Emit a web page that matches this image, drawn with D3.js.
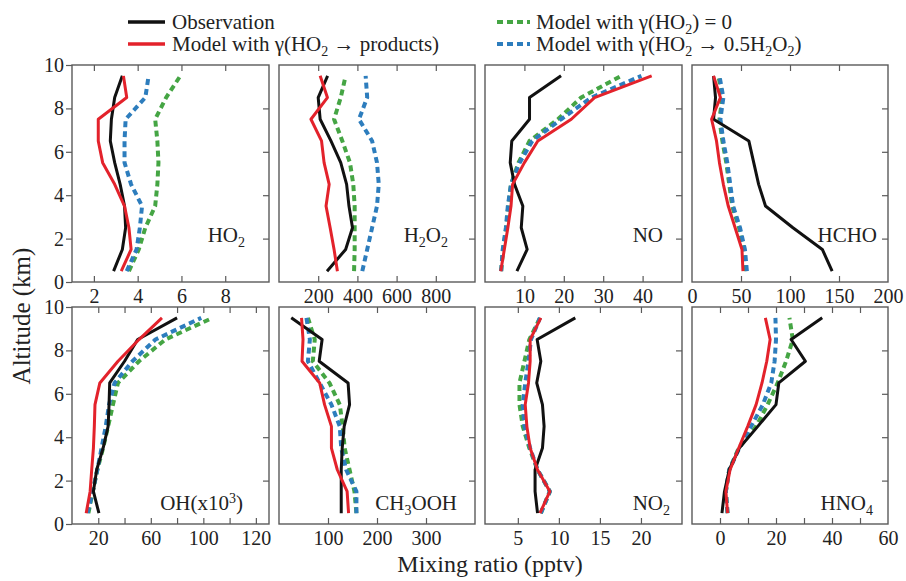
<!DOCTYPE html>
<html>
<head>
<meta charset="utf-8">
<script src="https://cdn.jsdelivr.net/npm/d3@7"></script>
<style>
  body { margin: 0; background: #fff; }
  svg { display: block; font-family: "Liberation Serif", "DejaVu Serif", serif; }
</style>
</head>
<body>
<svg id="chart" width="906" height="581"></svg>
<script>
// altitude levels (km), bottom to top
const alt = [0.5, 1.5, 2.5, 3.5, 4.5, 5.5, 6.5, 7.5, 8.5, 9.5];

// HO2
const ho2Obs = [2.9, 3.3, 3.45, 3.4, 3.2, 2.95, 2.75, 2.8, 2.95, 3.3];
const ho2Prod = [3.25, 3.7, 3.6, 3.4, 2.95, 2.4, 2.2, 2.2, 3.5, 3.35];
const ho2Zero = [3.6, 4.05, 4.35, 4.8, 4.9, 4.95, 4.9, 4.8, 5.3, 5.95];
const ho2Half = [3.5, 3.95, 4.1, 4.2, 3.7, 3.4, 3.4, 3.45, 4.35, 4.5];
// H2O2
const h2o2Obs = [245, 340, 375, 357, 345, 315, 265, 210, 200, 248];
const h2o2Prod = [298, 281, 261, 240, 256, 230, 217, 163, 247, 210];
const h2o2Zero = [383, 386, 386, 386, 379, 362, 323, 281, 315, 340];
const h2o2Half = [425, 450, 475, 500, 509, 500, 475, 408, 450, 442];
// NO
const noObs = [8.1, 10.7, 9.2, 9.6, 7.5, 6.4, 6.8, 11.3, 11.3, 19.3];
const noProd = [4.0, 4.9, 5.8, 6.6, 7.0, 10.0, 13.4, 21.9, 27.8, 42.3];
const noZero = [4.1, 4.6, 5.4, 5.9, 6.6, 8.5, 11.3, 18.5, 24.4, 34.6];
const noHalf = [4.1, 4.5, 5.3, 5.8, 6.6, 8.8, 12, 19.3, 27, 39.7];
// HCHO
const hchoObs = [143, 133, 103, 75, 68, 63, 58, 22, 24, 22];
const hchoProd = [52, 51, 44, 37, 32, 28, 25, 20, 29, 22];
const hchoZero = [55, 53, 48, 41, 38, 35, 31, 28, 31, 27];
const hchoHalf = [56, 54, 49, 42, 39, 36, 32, 29, 32, 28];
// OH (x10^3)
const ohObs = [20.5, 16.3, 18.8, 23.7, 27.5, 28.2, 28.7, 40, 50, 80];
const ohProd = [10.8, 13.8, 15, 16.3, 17, 17.5, 21.2, 35, 51, 68.5];
const ohZero = [12.5, 15.8, 19.3, 23.7, 27.5, 31.2, 35, 51, 71, 107];
const ohHalf = [11.8, 15.8, 19.3, 22.5, 25.7, 28.2, 32.4, 46, 63.5, 98.4];
// CH3OOH
const ch3oohObs = [127, 127, 127, 129, 133, 144, 141, 82, 88, 25];
const ch3oohProd = [142, 139, 119, 107, 107, 93, 83, 47, 49, 46];
const ch3oohZero = [158, 154, 144, 134, 130, 124, 103, 69, 73, 59];
const ch3oohHalf = [158, 158, 137, 127, 124, 107, 83, 59, 63, 56];
// NO2
const no2Obs = [7.4, 7.1, 7.1, 8.0, 8.2, 8.0, 7.3, 7.8, 7.35, 12];
const no2Prod = [7.7, 8.9, 7.4, 6.5, 6.1, 5.9, 6.3, 6.5, 6.5, 7.8];
const no2Zero = [7.8, 8.9, 7.4, 6.4, 5.6, 5.2, 5.2, 5.8, 6.4, 7.7];
const no2Half = [7.8, 8.9, 7.4, 6.5, 5.8, 5.6, 5.9, 6.3, 6.6, 7.7];
// HNO4
const hno4Obs = [0.7, 1.6, 3.3, 6.9, 13.5, 20, 21, 30.5, 25.4, 36.5];
const hno4Prod = [2.7, 2.1, 3.6, 6.7, 9.9, 12.9, 15, 16.7, 17.9, 16.2];
const hno4Zero = [2.7, 2.1, 3.3, 6.7, 12.9, 17, 20.6, 23.6, 26, 24.8];
const hno4Half = [2.7, 2.1, 3.3, 6.9, 11.1, 15.3, 18.3, 19.5, 20, 19.8];

// x-axis domains, tick marks, labelled ticks and their label text
const xDomains = [[1, 10], [0, 1000], [0, 50], [0, 200], [0, 150], [0, 400], [1, 25], [-10, 60]];
const xTickMarks = [[2, 4, 6, 8], [200, 400, 600, 800], [10, 20, 30, 40], [50, 100, 150],
  [20, 40, 60, 80, 100, 120, 140], [100, 200, 300], [5, 10, 15, 20], [0, 10, 20, 30, 40, 50]];
const xTickLabelPos = [[2, 4, 6, 8], [200, 400, 600, 800], [10, 20, 30, 40], [0, 50, 100, 150, 200],
  [20, 60, 100, 140], [100, 200, 300], [5, 10, 15, 20], [0, 20, 40, 60]];
const xTickLabelText = [["2", "4", "6", "8"], ["200", "400", "600", "800"], ["10", "20", "30", "40"],
  ["0", "50", "100", "150", "200"], ["20", "60", "100", "120"], ["100", "200", "300"],
  ["5", "10", "15", "20"], ["0", "20", "40", "60"]];
const yTicks = [0, 2, 4, 6, 8, 10];

const panelData = [
  [ho2Obs, ho2Prod, ho2Zero, ho2Half],
  [h2o2Obs, h2o2Prod, h2o2Zero, h2o2Half],
  [noObs, noProd, noZero, noHalf],
  [hchoObs, hchoProd, hchoZero, hchoHalf],
  [ohObs, ohProd, ohZero, ohHalf],
  [ch3oohObs, ch3oohProd, ch3oohZero, ch3oohHalf],
  [no2Obs, no2Prod, no2Zero, no2Half],
  [hno4Obs, hno4Prod, hno4Zero, hno4Half]
];

// species labels: [main text, sub/sup pieces]
const panelLabels = [
  [["HO", ""], ["2", "sub"]],
  [["H", ""], ["2", "sub"], ["O", ""], ["2", "sub"]],
  [["NO", ""]],
  [["HCHO", ""]],
  [["OH(x10", ""], ["3", "sup"], [")", ""]],
  [["CH", ""], ["3", "sub"], ["OOH", ""]],
  [["NO", ""], ["2", "sub"]],
  [["HNO", ""], ["4", "sub"]]
];
const labelEnd = [245, 448, 663, 877, 243, 457, 670, 873];

const colObs = "#111111", colProd = "#e3222b", colZero = "#45a544", colHalf = "#2d7dbd";

const svg = d3.select("#chart");
const colX = [[72, 269], [279, 475], [485, 682], [692, 888]];
const rowY = [[65, 282], [307, 524]];
const tick = 6;

panelData.forEach((series, i) => {
  const c = i % 4, r = Math.floor(i / 4);
  const [x0, x1] = colX[c], [y0, y1] = rowY[r];
  const x = d3.scaleLinear().domain(xDomains[i]).range([x0, x1]);
  const y = d3.scaleLinear().domain([0, 10]).range([y1, y0]);
  const g = svg.append("g");

  // frame
  g.append("rect").attr("x", x0).attr("y", y0).attr("width", x1 - x0).attr("height", y1 - y0)
    .attr("fill", "none").attr("stroke", "#5a5a5a").attr("stroke-width", 1.4);

  const styleAxis = (sel) => {
    sel.select(".domain").remove();
    sel.selectAll("line").attr("stroke", "#5a5a5a").attr("stroke-width", 1.2);
    sel.selectAll("text").attr("font-size", "20px").attr("fill", "#222")
      .attr("font-family", "Liberation Serif, serif");
  };

  // inward tick marks on top and bottom
  g.append("g").attr("transform", `translate(0,${y1})`)
    .call(d3.axisBottom(x).tickValues(xTickMarks[i]).tickSize(-tick).tickFormat(""))
    .call(styleAxis);
  g.append("g").attr("transform", `translate(0,${y0})`)
    .call(d3.axisTop(x).tickValues(xTickMarks[i]).tickSize(-tick).tickFormat(""))
    .call(styleAxis);
  // bottom tick labels
  const lab = xTickLabelText[i];
  g.append("g").attr("transform", `translate(0,${y1})`)
    .call(d3.axisBottom(x).tickValues(xTickLabelPos[i]).tickSize(0).tickPadding(7)
      .tickFormat((d, k) => lab[k]))
    .call(styleAxis);
  // inward right ticks
  g.append("g").attr("transform", `translate(${x1},0)`)
    .call(d3.axisRight(y).tickValues([2, 4, 6, 8]).tickSize(-tick).tickFormat(""))
    .call(styleAxis);
  // left axis with labels on first column
  if (c === 0) {
    g.append("g").attr("transform", `translate(${x0},0)`)
      .call(d3.axisLeft(y).tickValues(yTicks).tickSize(tick).tickPadding(2).tickFormat(d3.format("d")))
      .call(styleAxis);
  }

  const line = d3.line().x((d) => x(d)).y((d, k) => y(alt[k]));
  const [obs, prod, zero, half] = series;
  const draw = (vals, color, dashed) => {
    g.append("path").datum(vals).attr("d", line).attr("fill", "none")
      .attr("stroke", color).attr("stroke-width", dashed ? 4 : 3)
      .attr("stroke-dasharray", dashed ? "6,4" : null)
      .attr("stroke-linejoin", "round");
  };
  draw(zero, colZero, true);
  draw(half, colHalf, true);
  draw(obs, colObs, false);
  draw(prod, colProd, false);

  // species label
  const t = g.append("text").attr("x", labelEnd[i]).attr("y", r === 0 ? 242 : 510)
    .attr("text-anchor", "end").attr("font-size", "21px").attr("fill", "#222");
  panelLabels[i].forEach(([s, kind]) => {
    const ts = t.append("tspan").text(s);
    if (kind === "sub") ts.attr("font-size", "14px").attr("baseline-shift", "-5");
    if (kind === "sup") ts.attr("font-size", "14px").attr("baseline-shift", "7");
  });
});

// axis titles
svg.append("text").attr("transform", "translate(30,316) rotate(-90)")
  .attr("text-anchor", "middle").attr("font-size", "25px").attr("fill", "#222").text("Altitude (km)");
svg.append("text").attr("x", 490).attr("y", 572)
  .attr("text-anchor", "middle").attr("font-size", "24px").attr("fill", "#222").text("Mixing ratio (pptv)");

// legend
const legendItems = [
  { color: colObs, dashed: false, x: 128, y: 22, parts: [["Observation", ""]] },
  { color: colProd, dashed: false, x: 128, y: 44,
    parts: [["Model with γ(HO", ""], ["2", "sub"], [" → products)", ""]] },
  { color: colZero, dashed: true, x: 497, y: 22,
    parts: [["Model with γ(HO", ""], ["2", "sub"], [") = 0", ""]] },
  { color: colHalf, dashed: true, x: 497, y: 44,
    parts: [["Model with γ(HO", ""], ["2", "sub"], [" → 0.5H", ""], ["2", "sub"], ["O", ""], ["2", "sub"], [")", ""]] }
];
legendItems.forEach((it) => {
  svg.append("line").attr("x1", it.x).attr("x2", it.x + (it.dashed ? 33 : 37))
    .attr("y1", it.y).attr("y2", it.y).attr("stroke", it.color)
    .attr("stroke-width", it.dashed ? 4 : 3.5).attr("stroke-dasharray", it.dashed ? "6,4" : null);
  const t = svg.append("text").attr("x", it.x + (it.dashed ? 39 : 44)).attr("y", it.y + 7)
    .attr("font-size", "21px").attr("fill", "#222");
  it.parts.forEach(([s, kind]) => {
    const ts = t.append("tspan").text(s);
    if (kind === "sub") ts.attr("font-size", "14px").attr("baseline-shift", "-5");
  });
});
</script>
</body>
</html>
